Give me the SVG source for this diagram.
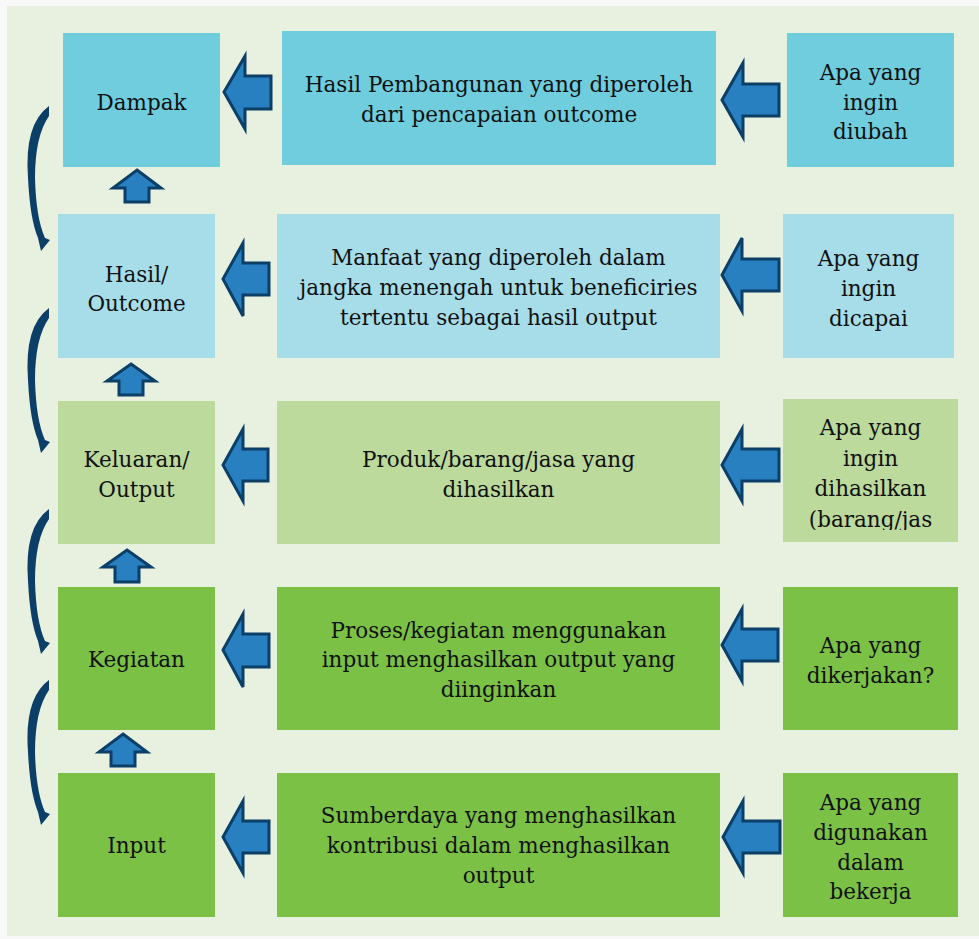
<svg xmlns="http://www.w3.org/2000/svg" width="979" height="939" viewBox="0 0 979 939">
<defs>
<style>
.t{font-family:"DejaVu Serif","Liberation Serif",serif;font-size:21.5px;fill:#111;text-anchor:middle}
.r1{fill:#6fcddd}.r2{fill:#a6dde9}.r3{fill:#bcda9c}.r4{fill:#7bc146}
.ar{fill:#2880c0;stroke:#0b3f68;stroke-width:3;stroke-linejoin:miter}
.cv{fill:#0b3f68}
</style>
<path id="curve" d="M49,0 Q24,18 28,72 Q30,113 38,132 L41,145 L50,134 L45,132 Q36,112 35,72 Q35,30 49,10 Z"/>
<clipPath id="clip3"><rect x="783" y="399" width="175" height="131"/></clipPath>
</defs>
<rect width="979" height="939" fill="#f8f8f8"/>
<rect x="7" y="6" width="972" height="930" fill="#e8f0df"/>

<g id="row1">
<g id="dampak"><rect class="r1" x="63" y="33" width="157" height="134"/><text class="t" x="141.5" y="110">Dampak</text></g>
<g id="dampak-desc"><rect class="r1" x="282" y="31" width="434" height="134"/><text class="t" x="499" y="92">Hasil Pembangunan yang diperoleh</text><text class="t" x="499" y="122">dari pencapaian outcome</text></g>
<g id="dampak-q"><rect class="r1" x="787" y="33" width="167" height="134"/><text class="t" x="870.5" y="80">Apa yang</text><text class="t" x="870.5" y="110">ingin</text><text class="t" x="870.5" y="139">diubah</text></g>
</g>

<g id="row2">
<g id="hasil"><rect class="r2" x="58" y="214" width="157" height="144"/><text class="t" x="136.5" y="282">Hasil/</text><text class="t" x="136.5" y="311">Outcome</text></g>
<g id="hasil-desc"><rect class="r2" x="277" y="214" width="443" height="144"/><text class="t" x="498.5" y="265">Manfaat yang diperoleh dalam</text><text class="t" x="498.5" y="295">jangka menengah untuk beneficiries</text><text class="t" x="498.5" y="325">tertentu sebagai hasil output</text></g>
<g id="hasil-q"><rect class="r2" x="783" y="214" width="171" height="144"/><text class="t" x="868.5" y="266">Apa yang</text><text class="t" x="868.5" y="296">ingin</text><text class="t" x="868.5" y="326">dicapai</text></g>
</g>

<g id="row3">
<g id="keluaran"><rect class="r3" x="58" y="401" width="157" height="143"/><text class="t" x="136.5" y="467">Keluaran/</text><text class="t" x="136.5" y="497">Output</text></g>
<g id="keluaran-desc"><rect class="r3" x="277" y="401" width="443" height="143"/><text class="t" x="498.5" y="467">Produk/barang/jasa yang</text><text class="t" x="498.5" y="497">dihasilkan</text></g>
<g id="keluaran-q"><rect class="r3" x="783" y="399" width="175" height="143"/><g clip-path="url(#clip3)"><text class="t" x="870.5" y="435">Apa yang</text><text class="t" x="870.5" y="466">ingin</text><text class="t" x="870.5" y="496">dihasilkan</text><text class="t" x="870.5" y="527">(barang/jas</text></g></g>
</g>

<g id="row4">
<g id="kegiatan"><rect class="r4" x="58" y="587" width="157" height="143"/><text class="t" x="136.5" y="667">Kegiatan</text></g>
<g id="kegiatan-desc"><rect class="r4" x="277" y="587" width="443" height="143"/><text class="t" x="498.5" y="638">Proses/kegiatan menggunakan</text><text class="t" x="498.5" y="667">input menghasilkan output yang</text><text class="t" x="498.5" y="697">diinginkan</text></g>
<g id="kegiatan-q"><rect class="r4" x="783" y="587" width="175" height="143"/><text class="t" x="870.5" y="653">Apa yang</text><text class="t" x="870.5" y="683">dikerjakan?</text></g>
</g>

<g id="row5">
<g id="input"><rect class="r4" x="58" y="773" width="157" height="144"/><text class="t" x="136.5" y="853">Input</text></g>
<g id="input-desc"><rect class="r4" x="277" y="773" width="443" height="144"/><text class="t" x="498.5" y="823">Sumberdaya yang menghasilkan</text><text class="t" x="498.5" y="853">kontribusi dalam menghasilkan</text><text class="t" x="498.5" y="883">output</text></g>
<g id="input-q"><rect class="r4" x="783" y="773" width="175" height="144"/><text class="t" x="870.5" y="810">Apa yang</text><text class="t" x="870.5" y="840">digunakan</text><text class="t" x="870.5" y="870">dalam</text><text class="t" x="870.5" y="899">bekerja</text></g>
</g>

<g id="connectors">
<polygon class="ar" points="224,92 245,56 245,76 271,76 271,109 245,109 245,129"/>
<polygon class="ar" points="722,100 743,63 743,84 779,84 779,116 743,116 743,137"/>
<polygon class="ar" points="223,279 243,243 243,263 269,263 269,295 243,295 243,316"/>
<polygon class="ar" points="722,275 742,238 742,259 779,259 779,291 742,291 742,311"/>
<polygon class="ar" points="223,465 243,429 243,449 268,449 268,481 243,481 243,501"/>
<polygon class="ar" points="722,465 742,429 742,449 779,449 779,481 742,481 742,501"/>
<polygon class="ar" points="223,650 243,614 243,634 269,634 269,667 243,667 243,687"/>
<polygon class="ar" points="722,645 742,609 742,629 778,629 778,661 742,661 742,681"/>
<polygon class="ar" points="223,837 243,801 243,821 269,821 269,853 243,853 243,873"/>
<polygon class="ar" points="723,837 743,801 743,821 780,821 780,853 743,853 743,873"/>
<polygon class="ar" points="137,170 161,188 149,188 149,202 125,202 125,188 113,188"/>
<polygon class="ar" points="131,364 155,381 143,381 143,395 119,395 119,381 107,381"/>
<polygon class="ar" points="127,550 151,567 139,567 139,582 115,582 115,567 103,567"/>
<polygon class="ar" points="123,734 147,752 135,752 135,766 111,766 111,752 99,752"/>
<use href="#curve" class="cv" x="0" y="106"/>
<use href="#curve" class="cv" x="0" y="308"/>
<use href="#curve" class="cv" x="0" y="509"/>
<use href="#curve" class="cv" x="0" y="680"/>
</g>
</svg>
